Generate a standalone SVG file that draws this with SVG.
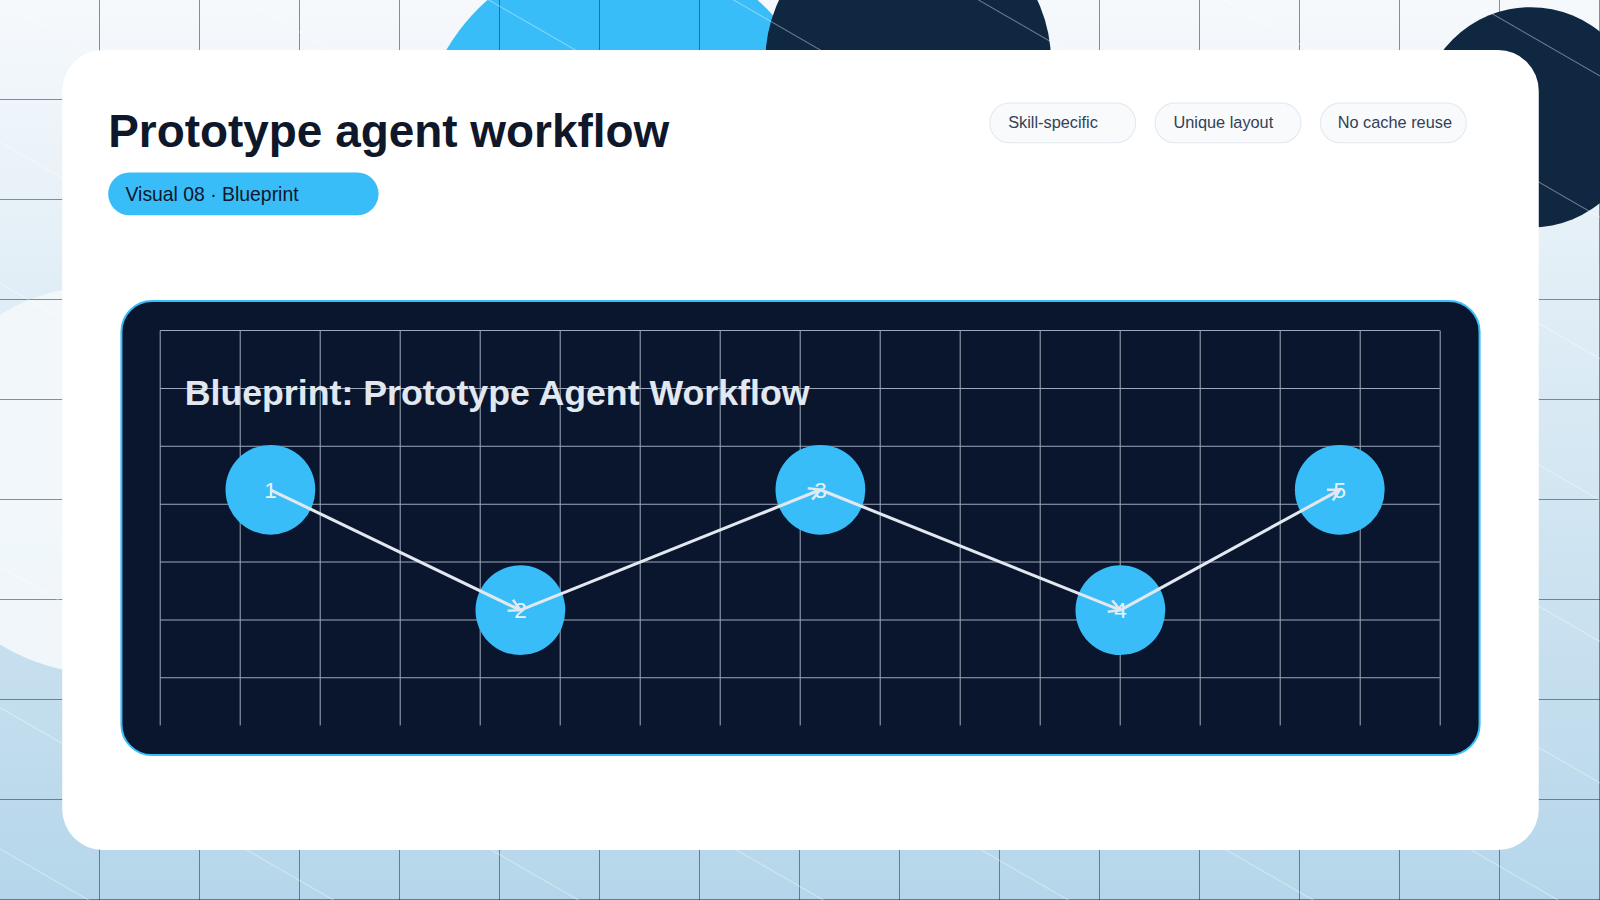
<svg xmlns="http://www.w3.org/2000/svg" width="1600" height="900" viewBox="0 0 1600 900">
<defs>
<linearGradient id="bg" x1="0" y1="0" x2="0" y2="1"><stop offset="0" stop-color="#f6f9fc"/><stop offset="1" stop-color="#b5d6ea"/></linearGradient>
<pattern id="diag" width="120" height="120" patternUnits="userSpaceOnUse" patternTransform="rotate(30)"><line x1="0" y1="0" x2="120" y2="0" stroke="#ffffff" stroke-width="1.2" opacity="0.8"/></pattern>
<pattern id="grid" width="98" height="98" patternUnits="userSpaceOnUse"><path d="M98 0V98M0 98H98" fill="none" stroke="#0f2741" stroke-width="1"/></pattern>
<marker id="arr" markerWidth="14" markerHeight="14" refX="12" refY="7" orient="auto" markerUnits="userSpaceOnUse"><path d="M1 1L12 7L1 13" fill="none" stroke="#e2e8f0" stroke-width="2.5"/></marker>
<style>
.tag rect{fill:#f8fafc;stroke:#e2e8f0;stroke-width:1}
.tag text{font-family:"Liberation Sans",Arial,sans-serif;font-size:16px;fill:#334155}
.node circle{fill:#38bdf8}
.node text{font-family:"Liberation Sans",Arial,sans-serif;font-size:22px;fill:#e8f4fc;text-anchor:middle}
.g{stroke:#c4cfdc;stroke-width:1;opacity:0.8}
.conn line{stroke:#e2e8f0;stroke-width:3;marker-end:url(#arr)}
</style>
</defs>
<g transform="scale(1.0204)">
<rect width="1568" height="882" fill="url(#bg)"/>
<circle cx="100" cy="470" r="190" fill="#f4f8fb" opacity="0.9"/>
<circle cx="610" cy="150" r="200" fill="#38bdf8"/>
<circle cx="890" cy="60" r="140" fill="#0f2741"/>
<circle cx="1500" cy="115" r="108" fill="#0f2741"/>
<rect width="1568" height="882" fill="url(#grid)"/>
<rect width="1568" height="882" fill="url(#diag)"/>
<rect x="61" y="49" width="1447" height="784" rx="40" fill="#ffffff"/>
<text x="106" y="144" font-family="Liberation Sans,Arial,sans-serif" font-weight="bold" font-size="45" fill="#0f172a">Prototype agent workflow</text>
<rect x="106" y="169" width="265" height="42" rx="21" fill="#38bdf8"/>
<text x="123" y="197" font-family="Liberation Sans,Arial,sans-serif" font-size="19" fill="#0f172a">Visual 08 · Blueprint</text>
<g id="tag1" class="tag"><rect x="970" y="101" width="143" height="39" rx="19.5"/><text x="988" y="125">Skill-specific</text></g>
<g id="tag2" class="tag"><rect x="1132" y="101" width="143" height="39" rx="19.5"/><text x="1150" y="125">Unique layout</text></g>
<g id="tag3" class="tag"><rect x="1294" y="101" width="143" height="39" rx="19.5"/><text x="1311" y="125">No cache reuse</text></g>
<g id="panel">
<rect x="119" y="295" width="1331" height="445" rx="30" fill="#0a152e" stroke="#38bdf8" stroke-width="2"/>
<g class="g">
<line x1="157" y1="324" x2="157" y2="711"/><line x1="235.4" y1="324" x2="235.4" y2="711"/><line x1="313.8" y1="324" x2="313.8" y2="711"/><line x1="392.2" y1="324" x2="392.2" y2="711"/><line x1="470.6" y1="324" x2="470.6" y2="711"/><line x1="549" y1="324" x2="549" y2="711"/><line x1="627.4" y1="324" x2="627.4" y2="711"/><line x1="705.8" y1="324" x2="705.8" y2="711"/><line x1="784.2" y1="324" x2="784.2" y2="711"/><line x1="862.6" y1="324" x2="862.6" y2="711"/><line x1="941" y1="324" x2="941" y2="711"/><line x1="1019.4" y1="324" x2="1019.4" y2="711"/><line x1="1097.8" y1="324" x2="1097.8" y2="711"/><line x1="1176.2" y1="324" x2="1176.2" y2="711"/><line x1="1254.6" y1="324" x2="1254.6" y2="711"/><line x1="1333" y1="324" x2="1333" y2="711"/><line x1="1411.4" y1="324" x2="1411.4" y2="711"/>
<line x1="157" y1="324" x2="1411" y2="324"/><line x1="157" y1="380.7" x2="1411" y2="380.7"/><line x1="157" y1="437.4" x2="1411" y2="437.4"/><line x1="157" y1="494.1" x2="1411" y2="494.1"/><line x1="157" y1="550.8" x2="1411" y2="550.8"/><line x1="157" y1="607.5" x2="1411" y2="607.5"/><line x1="157" y1="664.2" x2="1411" y2="664.2"/>
</g>
<text x="181" y="397" font-family="Liberation Sans,Arial,sans-serif" font-weight="bold" font-size="35" fill="#e2e8f0">Blueprint: Prototype Agent Workflow</text>
</g>
<g id="n1" class="node"><circle cx="265" cy="480" r="44"/><text x="265" y="488">1</text></g>
<g id="n2" class="node"><circle cx="510" cy="598" r="44"/><text x="510" y="606">2</text></g>
<g id="n3" class="node"><circle cx="804" cy="480" r="44"/><text x="804" y="488">3</text></g>
<g id="n4" class="node"><circle cx="1098" cy="598" r="44"/><text x="1098" y="606">4</text></g>
<g id="n5" class="node"><circle cx="1313" cy="480" r="44"/><text x="1313" y="488">5</text></g>
<g id="connectors" class="conn">
<line x1="265" y1="480" x2="510" y2="598"/>
<line x1="510" y1="598" x2="804" y2="480"/>
<line x1="804" y1="480" x2="1098" y2="598"/>
<line x1="1098" y1="598" x2="1313" y2="480"/>
</g>
</g>
</svg>
